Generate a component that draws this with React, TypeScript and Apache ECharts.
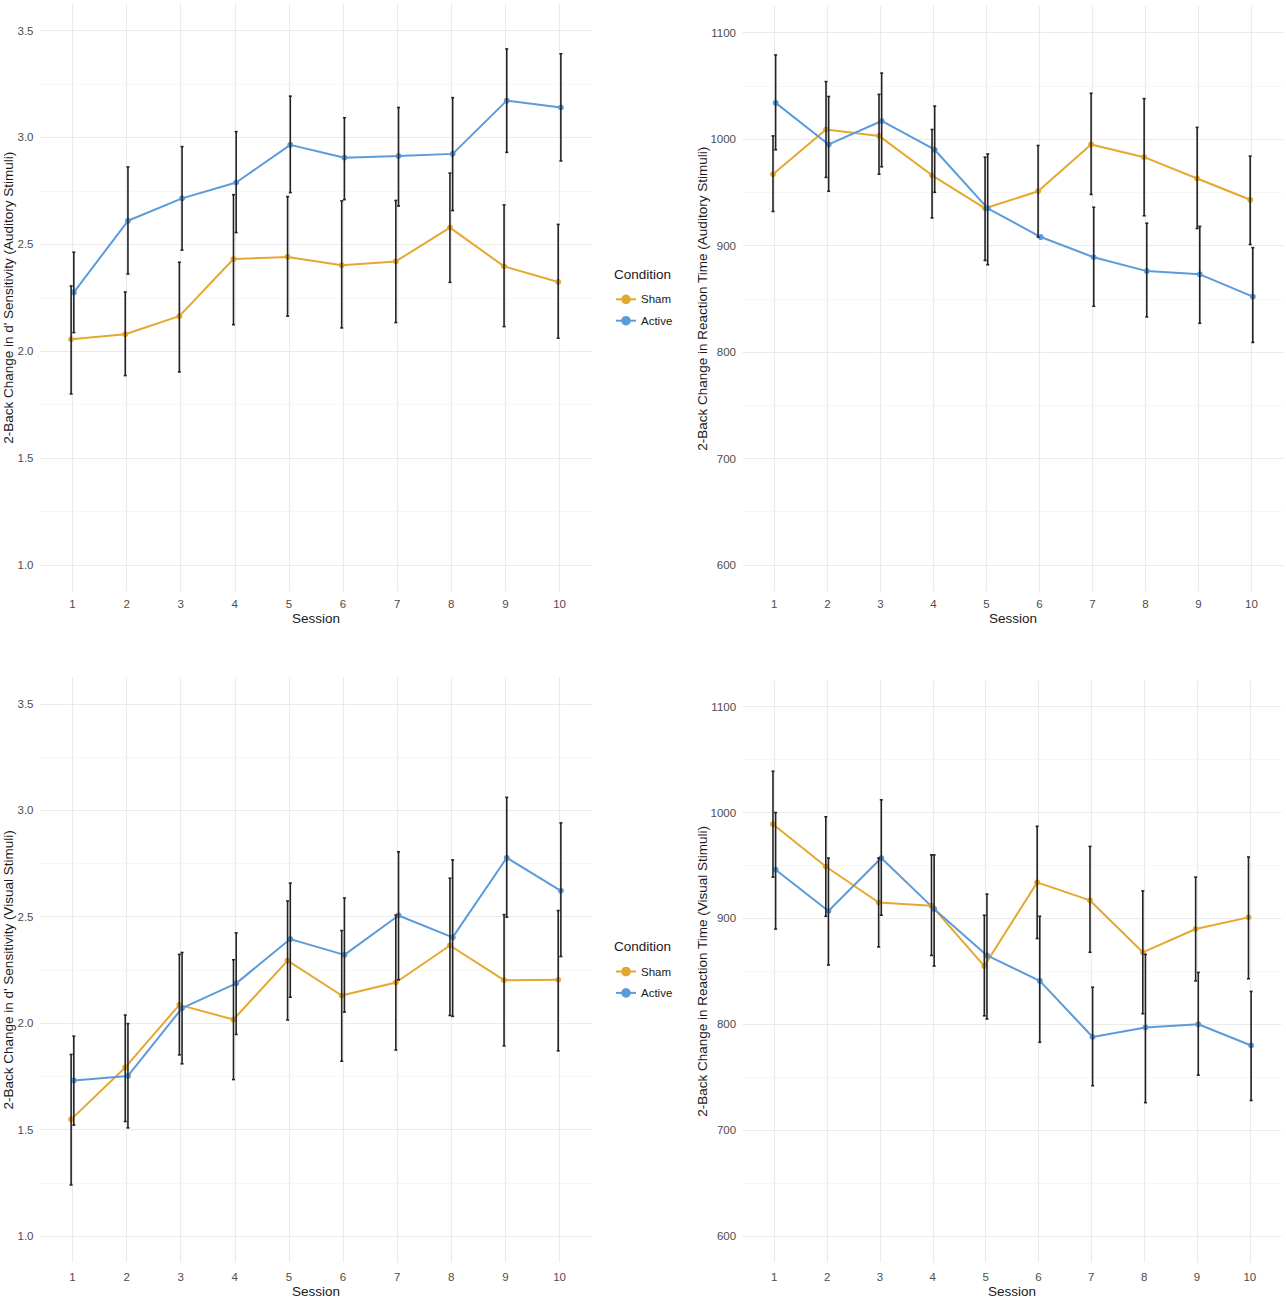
import React, { useEffect, useRef } from "react";
import * as echarts from "echarts";

// ---------- data ----------
const sessions = [1, 2, 3, 4, 5, 6, 7, 8, 9, 10];
const conditions = ["Sham", "Active"];

const dTicks = [1.0, 1.5, 2.0, 2.5, 3.0, 3.5];
const dMinorTicks = [1.25, 1.75, 2.25, 2.75, 3.25];
const rtTicks = [600, 700, 800, 900, 1000, 1100];
const rtMinorTicks = [650, 750, 850, 950, 1050];

// Auditory d'
const audDShamMean = [2.056, 2.079, 2.164, 2.431, 2.441, 2.402, 2.42, 2.578, 2.397, 2.324];
const audDShamLow = [1.8, 1.886, 1.903, 2.124, 2.164, 2.109, 2.134, 2.322, 2.115, 2.061];
const audDShamHigh = [2.305, 2.277, 2.416, 2.732, 2.723, 2.703, 2.705, 2.833, 2.684, 2.593];
const audDActiveMean = [2.275, 2.61, 2.715, 2.789, 2.965, 2.905, 2.913, 2.923, 3.172, 3.14];
const audDActiveLow = [2.087, 2.361, 2.473, 2.555, 2.742, 2.709, 2.679, 2.658, 2.93, 2.89];
const audDActiveHigh = [2.463, 2.862, 2.957, 3.027, 3.193, 3.092, 3.14, 3.186, 3.414, 3.391];

// Auditory RT
const audRTShamMean = [967, 1009, 1003, 966, 935, 951, 995, 983, 963, 943];
const audRTShamLow = [932, 964, 967, 926, 886, 908, 948, 928, 916, 901];
const audRTShamHigh = [1003, 1054, 1042, 1009, 983, 994, 1043, 1038, 1011, 984];
const audRTActiveMean = [1034, 995, 1017, 990, 935, 908, 889, 876, 873, 852];
const audRTActiveLow = [990, 951, 974, 950, 882, null, 843, 833, 827, 809];
const audRTActiveHigh = [1079, 1040, 1062, 1031, 986, null, 936, 921, 918, 898];

// Visual d'
const visDShamMean = [1.548, 1.792, 2.086, 2.017, 2.294, 2.13, 2.191, 2.365, 2.202, 2.204];
const visDShamLow = [1.24, 1.538, 1.851, 1.735, 2.015, 1.821, 1.874, 2.036, 1.893, 1.87];
const visDShamHigh = [1.853, 2.038, 2.323, 2.298, 2.574, 2.435, 2.508, 2.681, 2.51, 2.529];
const visDActiveMean = [1.731, 1.752, 2.071, 2.187, 2.395, 2.321, 2.506, 2.403, 2.777, 2.622];
const visDActiveLow = [1.521, 1.508, 1.809, 1.947, 2.122, 2.052, 2.204, 2.032, 2.498, 2.313];
const visDActiveHigh = [1.939, 1.998, 2.332, 2.424, 2.658, 2.588, 2.805, 2.767, 3.061, 2.941];

// Visual RT
const visRTShamMean = [989, 949, 915, 912, 855, 934, 917, 868, 890, 901];
const visRTShamLow = [939, 902, 873, 865, 808, 881, 868, 810, 841, 843];
const visRTShamHigh = [1039, 996, 957, 960, 903, 987, 968, 926, 939, 958];
const visRTActiveMean = [946, 907, 957, 909, 865, 841, 788, 797, 800, 780];
const visRTActiveLow = [890, 856, 903, 855, 805, 783, 742, 726, 752, 728];
const visRTActiveHigh = [1000, 957, 1012, 960, 923, 902, 835, 866, 849, 831];

const yTitles = [
  "2-Back Change in d' Sensitivity (Auditory Stimuli)",
  "2-Back Change in Reaction Time (Auditory Stimuli)",
  "2-Back Change in d' Sensitivity (Visual Stimuli)",
  "2-Back Change in Reaction Time (Visual Stimuli)",
];
const xTitle = "Session";
const legendTitle = "Condition";

// ---------- styles ----------
const FONT = "'Liberation Sans', Arial, Helvetica, sans-serif";
const SHAM_COLOR = "#E5A82E";
const ACTIVE_COLOR = "#5B9BDC";
const ERR_COLOR = "#222222";
const DODGE = 0.025;

const panels = [
  { left: 40, top: 3.8, width: 552, height: 587.9, min: 0.875, max: 3.625, ticks: dTicks, minor: dMinorTicks, dec: 1,
    nameGap: 25, labelMargin: 6, xNameGap: 19.5,
    sham: [audDShamMean, audDShamLow, audDShamHigh], active: [audDActiveMean, audDActiveLow, audDActiveHigh] },
  { left: 742.5, top: 6.0, width: 540.8, height: 585.6, min: 575, max: 1125, ticks: rtTicks, minor: rtMinorTicks, dec: 0,
    nameGap: 33, labelMargin: 6, xNameGap: 19.5,
    sham: [audRTShamMean, audRTShamLow, audRTShamHigh], active: [audRTActiveMean, audRTActiveLow, audRTActiveHigh] },
  { left: 40, top: 677.3, width: 552, height: 585.3, min: 0.875, max: 3.625, ticks: dTicks, minor: dMinorTicks, dec: 1,
    nameGap: 25, labelMargin: 8, xNameGap: 22,
    sham: [visDShamMean, visDShamLow, visDShamHigh], active: [visDActiveMean, visDActiveLow, visDActiveHigh] },
  { left: 742.6, top: 680.2, width: 538.9, height: 582.3, min: 575, max: 1125, ticks: rtTicks, minor: rtMinorTicks, dec: 0,
    nameGap: 33, labelMargin: 8, xNameGap: 22,
    sham: [visRTShamMean, visRTShamLow, visRTShamHigh], active: [visRTActiveMean, visRTActiveLow, visRTActiveHigh] },
];

function errRender(params: any, api: any) {
  const x = api.value(0);
  const lo = api.value(1);
  const hi = api.value(2);
  const pLo = api.coord([x, lo]);
  const pHi = api.coord([x, hi]);
  const cap = 1.5;
  const st = { stroke: ERR_COLOR, lineWidth: 1.6 };
  return {
    type: "group",
    children: [
      { type: "line", shape: { x1: pLo[0], y1: pLo[1], x2: pHi[0], y2: pHi[1] }, style: st },
      { type: "line", shape: { x1: pHi[0] - cap, y1: pHi[1], x2: pHi[0] + cap, y2: pHi[1] }, style: st },
      { type: "line", shape: { x1: pLo[0] - cap, y1: pLo[1], x2: pLo[0] + cap, y2: pLo[1] }, style: st },
    ],
  };
}

function buildOption() {
  const grid: any[] = [];
  const xAxis: any[] = [];
  const yAxis: any[] = [];
  const series: any[] = [];

  panels.forEach((p, i) => {
    grid.push({ left: p.left, top: p.top, width: p.width, height: p.height, containLabel: false, outerBoundsMode: "none" });
    xAxis.push({
      type: "value",
      gridIndex: i,
      min: 0.4,
      max: 10.6,
      name: xTitle,
      nameLocation: "middle",
      nameGap: p.xNameGap,
      nameMoveOverlap: false,
      nameTextStyle: { fontSize: 13.5, color: "#1a1a1a", fontFamily: FONT, verticalAlign: "top" },
      axisLine: { show: false },
      axisTick: { show: false, customValues: sessions },
      axisLabel: { customValues: sessions, fontSize: 11.5, color: "#4D4D4D", fontFamily: FONT, margin: p.labelMargin },
      splitLine: { show: true, lineStyle: { color: "#EBEBEB", width: 1.2 } },
    });
    yAxis.push({
      type: "value",
      gridIndex: i,
      min: p.min,
      max: p.max,
      name: yTitles[i],
      nameLocation: "middle",
      nameGap: p.nameGap,
      nameMoveOverlap: false,
      nameTextStyle: { fontSize: 13.5, color: "#1a1a1a", fontFamily: FONT },
      axisLine: { show: false },
      axisTick: { show: false, customValues: p.ticks },
      axisLabel: {
        customValues: p.ticks,
        fontSize: 11.5,
        color: "#4D4D4D",
        fontFamily: FONT,
        margin: 6.5,
        formatter: (v: number) => v.toFixed(p.dec),
      },
      splitLine: { show: true, lineStyle: { color: "#EBEBEB", width: 1.2 } },
    });
    yAxis.push({
      type: "value",
      gridIndex: i,
      min: p.min,
      max: p.max,
      position: "left",
      axisLine: { show: false },
      axisTick: { show: false, customValues: p.minor },
      axisLabel: { show: false, customValues: p.minor },
      splitLine: { show: true, lineStyle: { color: "#F3F3F3", width: 0.7 } },
    });

    const groups: [string, number[][], string, number][] = [
      ["Sham", p.sham as any, SHAM_COLOR, -DODGE],
      ["Active", p.active as any, ACTIVE_COLOR, DODGE],
    ];
    groups.forEach(([name, arrs, color, off]) => {
      const [mean, low, high] = arrs;
      series.push({
        name,
        type: "line",
        xAxisIndex: i,
        yAxisIndex: 2 * i,
        data: sessions.map((s, k) => [s + off, mean[k]]),
        symbol: "circle",
        symbolSize: 6,
        lineStyle: { color, width: 2 },
        itemStyle: { color },
        z: 3,
      });
      series.push({
        name: name + " SE",
        type: "custom",
        xAxisIndex: i,
        yAxisIndex: 2 * i,
        data: sessions
          .map((s, k) => [s + off, low[k], high[k]])
          .filter((d) => d[1] != null && d[2] != null),
        encode: { x: 0, y: [1, 2] },
        renderItem: errRender,
        z: 4,
      });
    });
  });

  const legendBase = {
    orient: "vertical",
    left: 615,
    itemWidth: 20,
    itemHeight: 12,
    itemGap: 9.4,
    padding: 0,
    selectedMode: false,
    data: conditions,
    textStyle: { fontSize: 11.5, color: "#1a1a1a", fontFamily: FONT },
  };

  return {
    animation: false,
    backgroundColor: "#ffffff",
    grid,
    xAxis,
    yAxis,
    series,
    legend: [
      { ...legendBase, top: 293.3 },
      { ...legendBase, top: 965.5 },
    ],
    graphic: [
      { type: "text", style: { x: 614, y: 274, text: legendTitle, fontSize: 13.5, fill: "#1a1a1a", fontFamily: FONT, verticalAlign: "middle" } },
      { type: "text", style: { x: 614, y: 946, text: legendTitle, fontSize: 13.5, fill: "#1a1a1a", fontFamily: FONT, verticalAlign: "middle" } },
    ],
  };
}

export default function App() {
  const ref = useRef<HTMLDivElement>(null);
  useEffect(() => {
    if (!ref.current) return;
    const chart = echarts.init(ref.current, null, { renderer: "svg" });
    chart.setOption(buildOption() as any);
    return () => chart.dispose();
  }, []);
  return (
    <div
      ref={ref}
      style={{ position: "absolute", left: 0, top: 0, width: 1286, height: 1300, background: "#fff" }}
    />
  );
}
